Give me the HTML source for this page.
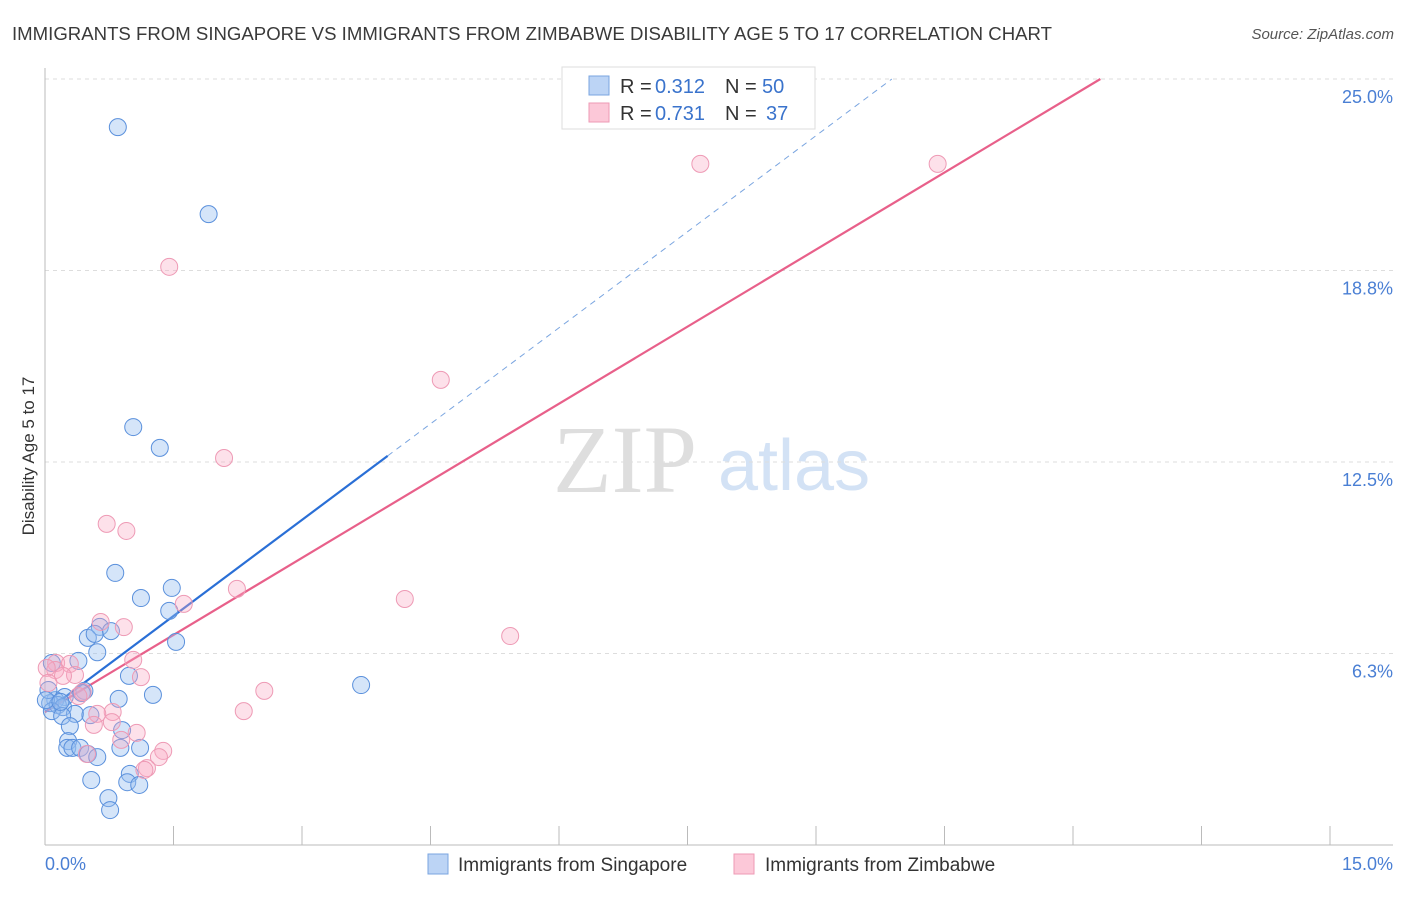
<!DOCTYPE html>
<html><head><meta charset="utf-8"><style>
body{margin:0;background:#fff;font-family:"Liberation Sans",sans-serif;}
svg text{font-family:"Liberation Sans",sans-serif;}
</style></head><body>
<svg id="chart" width="1406" height="892" xmlns="http://www.w3.org/2000/svg">
<text x="12" y="40" font-size="18.6" fill="#3a3a3a" textLength="1040">IMMIGRANTS FROM SINGAPORE VS IMMIGRANTS FROM ZIMBABWE DISABILITY AGE 5 TO 17 CORRELATION CHART</text>
<text x="1394" y="39" font-size="15" fill="#555" font-style="italic" text-anchor="end">Source: ZipAtlas.com</text>
<g>
<text x="553" y="492" font-size="96" fill="#dedede" style="font-family:'Liberation Serif',serif">ZIP</text>
<text x="718" y="490" font-size="72" fill="#d3e2f5">atlas</text>
</g>
<g id="grid"></g>
<line x1="45" y1="68" x2="45" y2="845" stroke="#bbb"/>
<line x1="45" y1="845" x2="1393" y2="845" stroke="#bbb"/>
<g id="xticks"></g>
<text transform="translate(34,456) rotate(-90)" font-size="17" fill="#333" text-anchor="middle">Disability Age 5 to 17</text>
<text x="45" y="870" font-size="18" fill="#4a7fd4">0.0%</text>
<text x="1393" y="870" font-size="18" fill="#4a7fd4" text-anchor="end">15.0%</text>
<g id="lines"></g>
<g id="points"></g>
<g>
<rect x="562" y="67" width="253" height="62" fill="#fff" stroke="#ddd"/>
<rect x="589" y="76" width="20" height="19" fill="#bcd4f5" stroke="#7aa5e0"/>
<rect x="589" y="103" width="20" height="19" fill="#fcc8d8" stroke="#ee9ab5"/>
<text x="620" y="93" font-size="20" fill="#333">R =</text>
<text x="655" y="93" font-size="20" fill="#3a73cc">0.312</text>
<text x="725" y="93" font-size="20" fill="#333">N =</text>
<text x="762" y="93" font-size="20" fill="#3a73cc">50</text>
<text x="620" y="120" font-size="20" fill="#333">R =</text>
<text x="655" y="120" font-size="20" fill="#3a73cc">0.731</text>
<text x="725" y="120" font-size="20" fill="#333">N =</text>
<text x="766" y="120" font-size="20" fill="#3a73cc">37</text>
</g>
<g>
<rect x="428" y="854" width="20" height="20" fill="#bcd4f5" stroke="#7aa5e0"/>
<text x="458" y="871" font-size="19" fill="#333">Immigrants from Singapore</text>
<rect x="734" y="854" width="20" height="20" fill="#fcc8d8" stroke="#ee9ab5"/>
<text x="765" y="871" font-size="19" fill="#333">Immigrants from Zimbabwe</text>
</g>
</svg>
<script>
const yTicks=[6.25,12.5,18.75,25];
const yTickLabels=["6.3%","12.5%","18.8%","25.0%"];
const xTicks=[0,1.5,3,4.5,6,7.5,9,10.5,12,13.5,15];
const blueX=[.85,1.91,1.03,1.34,.82,1.48,1.12,1.45,1.53,.64,.50,.58,.77,.61,.39,.08,.98,.86,1.26,3.69,.46,.43,.23,.12,.06,.15,.21,.08,.35,.20,.53,.29,.90,.27,.26,.32,.41,.88,1.11,.50,.61,.99,.54,.96,1.10,.74,.76,.04,.01,.18];
const blueY=[23.43,20.59,13.64,12.96,8.88,8.39,8.06,7.64,6.63,7.12,6.76,6.89,6.98,6.29,6.01,5.94,5.52,4.77,4.90,5.22,5.03,4.96,4.83,4.73,4.63,4.57,4.50,4.37,4.28,4.21,4.24,3.88,3.75,3.39,3.17,3.17,3.17,3.17,3.17,2.97,2.87,2.32,2.12,2.05,1.96,1.53,1.14,5.06,4.73,4.67];
const pinkX=[7.65,10.42,1.45,4.62,2.09,.72,.95,2.24,4.20,5.43,1.62,.65,.92,.13,.29,.12,.02,.35,.21,.04,1.03,1.12,.44,2.56,2.32,.79,.61,.78,.57,1.07,.49,1.38,1.33,1.19,1.16,.39,.89];
const pinkY=[22.23,22.23,18.87,15.18,12.63,10.48,10.25,8.36,8.03,6.82,7.87,7.28,7.11,5.94,5.91,5.71,5.78,5.55,5.52,5.29,6.04,5.48,4.99,5.03,4.37,4.34,4.28,4.01,3.92,3.66,2.97,3.07,2.87,2.51,2.45,4.86,3.43];
const blueFit=[4.34,2.09];   // intercept, slope
const pinkFit=[4.34,1.677];
const blueSolidEnd=4.0;
const NS="http://www.w3.org/2000/svg";
const X=v=>45+v/15*1285;
const Y=v=>845-v*30.64;
function mk(tag,attrs,parent){const e=document.createElementNS(NS,tag);for(const k in attrs)e.setAttribute(k,attrs[k]);parent.appendChild(e);return e;}
const grid=document.getElementById('grid');
yTicks.forEach((t,i)=>{
 const l=mk('line',{x1:45,x2:1393,y1:Y(t),y2:Y(t),stroke:'#ddd','stroke-dasharray':'4,4'},grid);
 
 
 const tx=mk('text',{x:1393,y:Y(t)+24,'font-size':18,fill:'#4a7fd4','text-anchor':'end'},grid);
 tx.textContent=yTickLabels[i];
 
 
});
const xt=document.getElementById('xticks');
xTicks.forEach(t=>{
 const l=mk('line',{x1:X(t),x2:X(t),y1:826,y2:845,stroke:'#bbb'},xt);
 
 
});
const lines=document.getElementById('lines');
const yEnd=25;
let l1=mk('line',{x1:X(0),y1:Y(blueFit[0]),x2:X(blueSolidEnd),y2:Y(blueFit[0]+blueFit[1]*blueSolidEnd),stroke:'#2a6fd6','stroke-width':2.2},lines);


const bxe=(yEnd-blueFit[0])/blueFit[1];
let l2=mk('line',{x1:X(blueSolidEnd),y1:Y(blueFit[0]+blueFit[1]*blueSolidEnd),x2:X(bxe),y2:Y(yEnd),stroke:'#7aa5e0','stroke-width':1,'stroke-dasharray':'6,5'},lines);


const pxe=(yEnd-pinkFit[0])/pinkFit[1];
let l3=mk('line',{x1:X(0),y1:Y(pinkFit[0]),x2:X(pxe),y2:Y(yEnd),stroke:'#e8608a','stroke-width':2.2},lines);


const pts=document.getElementById('points');
blueX.forEach((v,i)=>{
 const c=mk('circle',{cx:X(v),cy:Y(blueY[i]),r:8.5,fill:'rgba(150,190,240,0.4)',stroke:'#5a90dc','stroke-width':1},pts);
 
 
});
pinkX.forEach((v,i)=>{
 const c=mk('circle',{cx:X(v),cy:Y(pinkY[i]),r:8.5,fill:'rgba(248,170,195,0.35)',stroke:'#ee9ab5','stroke-width':1},pts);
 
 
});
</script>
</body></html>
